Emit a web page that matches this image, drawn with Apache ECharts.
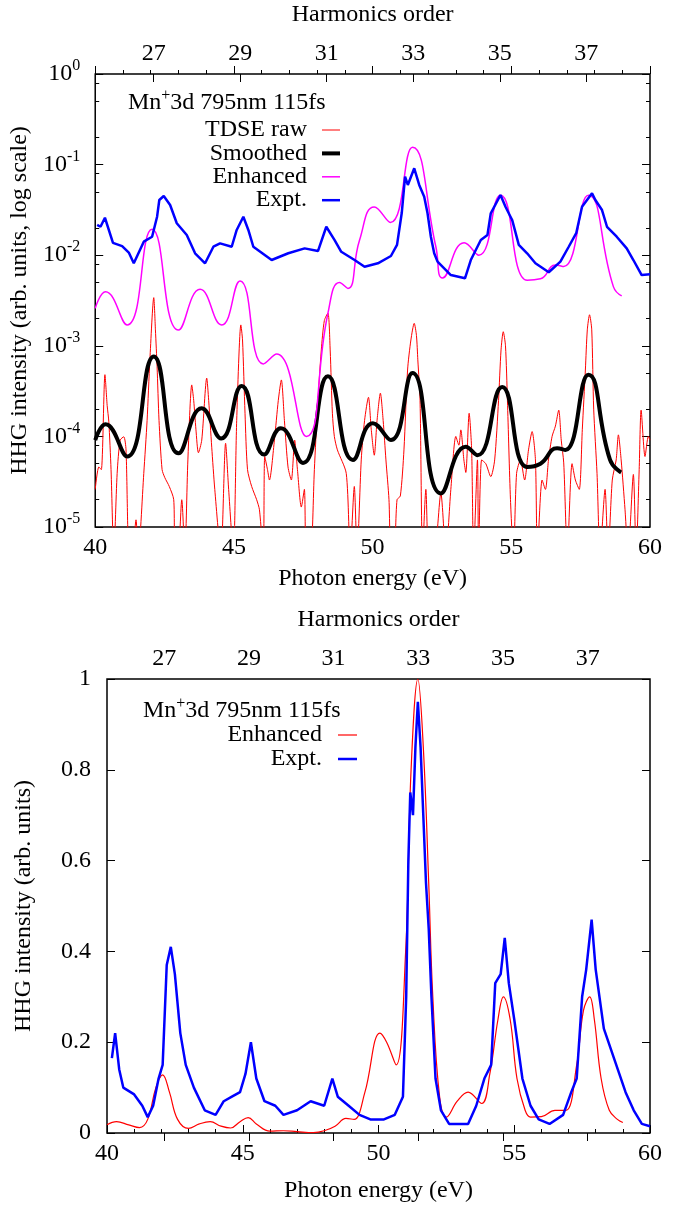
<!DOCTYPE html>
<html><head><meta charset="utf-8">
<script src="https://cdn.jsdelivr.net/npm/echarts@6/dist/echarts.min.js"></script>
<style>html,body{margin:0;padding:0;background:#fff}#c{width:685px;height:1206px}</style>
</head><body><div id="c"></div>
<script>
// photon energy of one 795 nm photon (eV) -> maps harmonic order to energy
const EV_PER_ORDER = 1.55955;
const energyRange = [40, 60];
const harmonicTicks = [27, 29, 31, 33, 35, 37];
const logRange = [1e-5, 1];
const logMinorTicks = [2e-5,5e-5,8e-5,2e-4,5e-4,8e-4,2e-3,5e-3,8e-3,2e-2,5e-2,8e-2,0.2,0.5,0.8];
const linTicks = [0, 0.2, 0.4, 0.6, 0.8, 1];

// ---- upper panel (log scale) ----
const tdseRaw = [
[40.0,2.6e-5],[40.13,4.6e-5],[40.22,4.3e-5],[40.35,4.8e-4],[40.43,2.2e-4],[40.49,1.45e-4],[40.57,4.3e-5],[40.67,5e-6],
[40.79,3.9e-5],[40.9,9.1e-5],[41.03,9.9e-5],[41.11,7.1e-5],[41.22,5e-6],[41.33,5e-6],[41.47,1.2e-5],[41.55,5e-6],
[41.75,3.9e-5],[41.87,1.5e-4],[41.97,7e-4],[42.11,3.4e-3],[42.17,1.5e-3],[42.23,5.9e-4],[42.3,1.5e-4],[42.41,4.3e-5],
[42.51,3.5e-5],[42.67,2.8e-5],[42.83,2e-5],[42.87,5e-6],[42.98,5e-6],[43.12,2e-5],[43.23,5e-6],[43.34,5.5e-5],
[43.48,3.7e-4],[43.55,2.5e-4],[43.63,1.2e-4],[43.72,6.6e-5],[43.84,9.1e-5],[44.02,4.4e-4],[44.09,2.5e-4],[44.2,7.6e-5],
[44.31,2.6e-5],[44.53,5e-6],[44.7,8.4e-5],[44.81,2.6e-5],[44.98,5e-6],[45.1,1.5e-4],[45.25,1.7e-3],[45.31,1.16e-3],
[45.4,1.8e-4],[45.49,4.3e-5],[45.64,2.8e-5],[45.82,2e-5],[45.92,1.55e-5],[46.06,5e-6],[46.11,6e-5],[46.21,4.3e-5],
[46.28,3.3e-5],[46.46,9.1e-5],[46.6,2.5e-4],[46.71,4.2e-4],[46.82,1.5e-4],[46.95,4.6e-5],[47.07,3.3e-5],[47.19,9.1e-5],
[47.29,4.3e-5],[47.43,1.66e-5],[47.54,2.6e-5],[47.61,5e-6],[47.76,5e-6],[47.9,4.3e-5],[48.01,2e-4],[48.15,9e-4],
[48.26,1.9e-3],[48.39,2.3e-3],[48.47,9e-4],[48.55,1.8e-4],[48.62,1e-4],[48.73,7.1e-5],[49.05,3.9e-5],[49.19,5e-6],
[49.34,2.8e-5],[49.44,5e-6],[49.59,5.5e-5],[49.71,1.5e-4],[49.85,2.7e-4],[49.95,1.2e-4],[50.06,6.2e-5],[50.16,1.5e-4],
[50.28,3e-4],[50.38,1.5e-4],[50.48,5.5e-5],[50.59,2e-5],[50.66,5e-6],[50.77,5e-6],[50.88,2e-5],[51.0,2.2e-5],
[51.13,7.1e-5],[51.26,5.4e-4],[51.38,1.16e-3],[51.5,1.77e-3],[51.58,1.3e-3],[51.63,7e-4],[51.71,2.5e-4],[51.8,5e-6],
[51.92,2.6e-5],[52.03,5e-6],[52.21,5e-6],[52.46,2.35e-5],[52.64,5e-6],[52.82,2.6e-5],[53.0,1e-4],[53.11,8e-5],
[53.18,1.18e-4],[53.29,5.5e-5],[53.36,4e-5],[53.48,1.8e-4],[53.57,7.1e-5],[53.64,5e-6],[53.78,5.5e-5],[53.82,5e-6],
[53.93,5.5e-5],[54.08,5e-5],[54.26,3.6e-5],[54.4,5.5e-5],[54.54,2.5e-4],[54.63,9e-4],[54.71,1.43e-3],[54.79,1e-3],
[54.86,2.5e-4],[54.97,2e-5],[55.08,5e-6],[55.19,3.9e-5],[55.33,5.5e-5],[55.48,3.3e-5],[55.62,7.1e-5],[55.75,1.13e-4],
[55.87,5.5e-5],[55.94,5e-6],[56.11,3.3e-5],[56.23,2.6e-5],[56.34,5.5e-5],[56.47,1e-4],[56.59,1.3e-4],[56.71,1.95e-4],
[56.8,9.1e-5],[56.89,5.1e-5],[57.02,5e-6],[57.19,5e-5],[57.31,3.3e-5],[57.45,2.6e-5],[57.56,1.2e-4],[57.67,5.4e-4],
[57.74,1.5e-3],[57.82,2.2e-3],[57.9,1.5e-3],[57.97,2e-4],[58.09,3.9e-5],[58.2,5e-6],[58.38,2.6e-5],[58.49,5e-6],
[58.64,3.3e-5],[58.78,5.5e-5],[58.86,1.04e-4],[58.96,5.5e-5],[59.1,1.55e-5],[59.21,5e-6],[59.4,3.8e-5],[59.5,5e-6],
[59.61,4.3e-5],[59.68,1.95e-4],[59.82,6e-5],[59.94,1e-4],[60.0,9.1e-5]
];
const smoothed = [
[40.0,9.1e-5],[40.37,1.36e-4],[41.15,6.0e-5],[42.11,7.6e-4],[43.0,6.5e-5],[43.84,2.04e-4],[44.54,9.5e-5],
[45.28,3.6e-4],[46.09,6.3e-5],[46.69,1.23e-4],[47.49,5.1e-5],[48.39,4.6e-4],[49.29,5.5e-5],[50.01,1.4e-4],
[50.66,9.1e-5],[51.44,5.0e-4],[52.46,2.35e-5],[53.36,7.7e-5],[53.78,6.2e-5],[54.67,3.5e-4],[55.57,4.6e-5],
[56.05,5.0e-5],[56.65,7.4e-5],[56.95,7.1e-5],[57.78,4.8e-4],[58.56,5.5e-5],[58.96,4.0e-5]
];
const enhancedLog = [
[40.0,2.59e-3],[40.37,3.95e-3],[41.15,1.7e-3],[42.05,1.93e-2],[43.0,1.49e-3],[43.78,4.2e-3],[44.56,1.7e-3],
[45.22,5.2e-3],[46.06,6.3e-4],[46.54,8.1e-4],[47.61,1.0e-4],[48.39,2.29e-3],[48.81,5.0e-3],[49.11,4.3e-3],
[49.53,1.47e-2],[50.06,3.4e-2],[50.64,2.3e-2],[51.44,1.55e-1],[52.28,1.24e-2],[52.52,5.6e-3],[53.3,1.37e-2],
[53.83,1.0e-2],[54.61,4.6e-2],[55.57,5.3e-3],[56.05,5.5e-3],[56.59,7.8e-3],[56.89,7.5e-3],[57.78,4.6e-2],
[58.68,4.5e-3],[58.98,3.55e-3]
];
const exptLog = [
[40.07,2.16e-2],[40.19,2.06e-2],[40.35,2.59e-2],[40.64,1.37e-2],[40.97,1.26e-2],[41.21,1.07e-2],[41.39,8.14e-3],
[41.75,1.41e-2],[42.05,1.6e-2],[42.23,2.66e-2],[42.31,4.07e-2],[42.47,4.5e-2],[42.7,3.58e-2],[42.94,2.25e-2],
[43.3,1.67e-2],[43.6,1.05e-2],[43.96,8.14e-3],[44.26,1.24e-2],[44.5,1.35e-2],[44.92,1.24e-2],[45.1,1.9e-2],
[45.34,2.66e-2],[45.52,1.9e-2],[45.7,1.24e-2],[46.36,8.85e-3],[46.96,1.05e-2],[47.55,1.19e-2],[48.03,1.11e-2],
[48.33,2.06e-2],[48.63,1.47e-2],[48.87,1.09e-2],[49.35,8.85e-3],[49.71,7.46e-3],[50.19,8.14e-3],[50.66,9.8e-3],
[50.88,1.3e-2],[51.05,2.92e-2],[51.17,7.35e-2],[51.27,5.96e-2],[51.5,9.1e-2],[51.68,5.96e-2],[51.86,4.42e-2],
[51.98,2.9e-2],[52.1,1.6e-2],[52.22,1.05e-2],[52.34,8.5e-3],[52.82,6.04e-3],[53.33,5.56e-3],[53.54,8.85e-3],
[53.9,1.47e-2],[54.14,1.67e-2],[54.26,2.9e-2],[54.61,4.62e-2],[54.79,3.43e-2],[55.03,2.45e-2],[55.27,1.3e-2],
[55.57,1.05e-2],[55.87,8.14e-3],[56.35,6.48e-3],[56.77,8.5e-3],[57.07,1.24e-2],[57.34,1.75e-2],[57.55,3.43e-2],
[57.91,4.82e-2],[58.03,4.07e-2],[58.27,3.15e-2],[58.45,2.06e-2],[58.8,1.6e-2],[59.16,1.19e-2],[59.4,8.85e-3],
[59.7,6.04e-3],[60.0,6.15e-3]
];

// ---- lower panel (linear scale) ----
const enhancedLin = [
[40.0,0.018],[40.35,0.025],[40.8,0.018],[41.2,0.012],[41.5,0.03],[41.8,0.1],[42.05,0.128],[42.3,0.09],[42.6,0.03],
[43.0,0.01],[43.4,0.02],[43.8,0.025],[44.2,0.015],[44.55,0.011],[44.9,0.025],[45.2,0.034],[45.5,0.02],[46.0,0.004],
[46.5,0.005],[47.0,0.003],[47.6,0.001],[48.0,0.005],[48.4,0.015],[48.8,0.032],[49.1,0.03],[49.5,0.09],[50.05,0.22],
[50.3,0.2],[50.65,0.15],[51.0,0.4],[51.2,0.8],[51.45,1.0],[51.65,0.85],[51.85,0.55],[52.0,0.3],[52.25,0.08],
[52.5,0.035],[52.9,0.07],[53.3,0.09],[53.8,0.065],[54.1,0.13],[54.4,0.25],[54.6,0.3],[54.85,0.25],[55.1,0.12],
[55.4,0.05],[55.6,0.035],[56.0,0.036],[56.5,0.05],[56.9,0.05],[57.3,0.15],[57.55,0.27],[57.78,0.3],[57.95,0.25],
[58.2,0.12],[58.5,0.05],[58.8,0.03],[59.0,0.023]
];
const exptLin = [
[40.18,0.165],[40.3,0.22],[40.45,0.14],[40.6,0.1],[41.0,0.085],[41.3,0.06],[41.5,0.035],[41.7,0.06],[41.9,0.12],
[42.05,0.15],[42.2,0.37],[42.35,0.41],[42.5,0.35],[42.7,0.22],[42.9,0.15],[43.2,0.1],[43.6,0.05],[44.0,0.04],
[44.3,0.07],[44.6,0.08],[44.9,0.09],[45.1,0.13],[45.3,0.2],[45.5,0.12],[45.8,0.07],[46.2,0.06],[46.5,0.04],
[47.0,0.05],[47.5,0.07],[48.0,0.06],[48.3,0.12],[48.5,0.08],[48.9,0.06],[49.3,0.04],[49.7,0.03],[50.2,0.03],
[50.6,0.04],[50.9,0.08],[51.02,0.3],[51.1,0.6],[51.17,0.75],[51.27,0.7],[51.36,0.85],[51.45,0.95],[51.55,0.85],
[51.65,0.7],[51.75,0.55],[51.85,0.45],[51.95,0.3],[52.1,0.12],[52.3,0.05],[52.6,0.02],[53.0,0.02],[53.3,0.02],
[53.6,0.06],[53.9,0.12],[54.15,0.15],[54.3,0.33],[54.5,0.35],[54.65,0.43],[54.8,0.33],[55.0,0.25],[55.3,0.12],
[55.6,0.06],[55.9,0.03],[56.3,0.02],[56.8,0.04],[57.1,0.09],[57.3,0.12],[57.5,0.3],[57.65,0.36],[57.85,0.47],
[58.0,0.36],[58.3,0.23],[58.7,0.16],[59.1,0.09],[59.4,0.05],[59.7,0.02],[60.0,0.015]
];

const FONT = 'Liberation Serif';
const FS = 24;
const SUP = 16;
const txt = {color:'#000', fontFamily:FONT, fontSize:FS};
const tickStyle = {lineStyle:{color:'#000', width:1}};

function energyAxis(grid, gap){
  return {type:'value', gridIndex:grid, position:'bottom', min:energyRange[0], max:energyRange[1], interval:5,
    axisLine:{show:false}, splitLine:{show:false},
    axisTick:Object.assign({inside:true, length:8}, tickStyle),
    minorTick:{show:true, splitNumber:5, length:4, lineStyle:{color:'#000', width:1}},
    axisLabel:Object.assign({margin:9}, txt),
    name:'Photon energy (eV)', nameLocation:'middle', nameGap:gap, nameTextStyle:txt};
}
function harmonicAxis(grid, gap){
  return {type:'value', gridIndex:grid, position:'top', min:energyRange[0]/EV_PER_ORDER, max:energyRange[1]/EV_PER_ORDER,
    axisLine:{show:false}, splitLine:{show:false},
    axisTick:Object.assign({inside:true, length:8, customValues:harmonicTicks}, tickStyle),
    axisLabel:Object.assign({margin:8, customValues:harmonicTicks}, txt),
    name:'Harmonics order', nameLocation:'middle', nameGap:gap, nameTextStyle:txt};
}
const logExpRange = [Math.log10(logRange[0]), Math.log10(logRange[1])];
const logMinorExp = logMinorTicks.map(v => Math.log10(v));
function logMinorAxis(pos){
  return {type:'value', gridIndex:0, position:pos, min:logExpRange[0], max:logExpRange[1],
    axisLine:{show:false}, splitLine:{show:false}, axisLabel:{show:false},
    axisTick:Object.assign({inside:true, length:4, customValues:logMinorExp}, tickStyle)};
}

const option = {
  animation:false,
  backgroundColor:'#fff',
  grid:[
    {left:93, top:74, width:557, height:453, show:true, borderColor:'#000', borderWidth:1.5, backgroundColor:'transparent'},
    {left:107, top:679, width:543, height:454, show:true, borderColor:'#000', borderWidth:1.5, backgroundColor:'transparent'}
  ],
  xAxis:[energyAxis(0, 40), harmonicAxis(0, 47), energyAxis(1, 46), harmonicAxis(1, 47)],
  yAxis:[
    {type:'log', logBase:10, gridIndex:0, position:'left', min:logRange[0], max:logRange[1],
      axisLine:{show:false}, splitLine:{show:false},
      axisTick:Object.assign({inside:true, length:8}, tickStyle),
      axisLabel:{margin:15, formatter:function(v){return '{b|10}{s|'+Math.round(Math.log10(v))+'}';},
        rich:{b:{fontFamily:FONT, fontSize:FS, color:'#000', lineHeight:32},
              s:{fontFamily:FONT, fontSize:SUP, color:'#000', lineHeight:16, verticalAlign:'top'}}},
      name:'HHG intensity (arb. units, log scale)', nameLocation:'middle', nameGap:60, nameTextStyle:txt},
    {type:'log', logBase:10, gridIndex:0, position:'right', min:logRange[0], max:logRange[1],
      axisLine:{show:false}, splitLine:{show:false}, axisLabel:{show:false},
      axisTick:Object.assign({inside:true, length:8}, tickStyle)},
    logMinorAxis('left'),
    logMinorAxis('right'),
    {type:'value', gridIndex:1, position:'left', min:0, max:1, interval:0.2,
      axisLine:{show:false}, splitLine:{show:false},
      axisTick:Object.assign({inside:true, length:8}, tickStyle),
      axisLabel:Object.assign({margin:16, customValues:linTicks}, txt),
      name:'HHG intensity (arb. units)', nameLocation:'middle', nameGap:71, nameTextStyle:txt},
    {type:'value', gridIndex:1, position:'right', min:0, max:1, interval:0.2,
      axisLine:{show:false}, splitLine:{show:false}, axisLabel:{show:false},
      axisTick:Object.assign({inside:true, length:8}, tickStyle)}
  ],
  series:[
    {name:'TDSE raw', type:'line', xAxisIndex:0, yAxisIndex:0, data:tdseRaw, showSymbol:false, symbol:'none',
      smooth:0.25, lineStyle:{color:'#ff0000', width:1}},
    {name:'Smoothed', type:'line', xAxisIndex:0, yAxisIndex:0, data:smoothed, symbol:'none',
      smooth:0.5, lineStyle:{color:'#000', width:4}},
    {name:'Enhanced', type:'line', xAxisIndex:0, yAxisIndex:0, data:enhancedLog, symbol:'none',
      smooth:0.5, lineStyle:{color:'#ff00ff', width:1.5}},
    {name:'Expt.', type:'line', xAxisIndex:0, yAxisIndex:0, data:exptLog, symbol:'none',
      lineStyle:{color:'#0000ff', width:2.5}},
    {name:'Enhanced ', type:'line', xAxisIndex:2, yAxisIndex:4, data:enhancedLin, symbol:'none',
      smooth:0.4, lineStyle:{color:'#ff0000', width:1.2}},
    {name:'Expt. ', type:'line', xAxisIndex:2, yAxisIndex:4, data:exptLin, symbol:'none',
      lineStyle:{color:'#0000ff', width:2.5}}
  ],
  graphic:[]
};

// legends (text right-aligned, line sample to the right)
function titleText(x, y){
  return {type:'text', left:x, top:y, style:{text:'{a|Mn}{s|+}{a|3d 795nm 115fs}',
    rich:{a:{fontFamily:FONT, fontSize:FS, fill:'#000', lineHeight:30}, s:{fontFamily:FONT, fontSize:SUP, fill:'#000', lineHeight:16, verticalAlign:'top'}}}};
}
function legendRow(label, color, width, xr, y, x1, x2){
  return [
    {type:'text', x:xr, y:y, style:{text:label, fontFamily:FONT, fontSize:FS, fill:'#000', align:'right', verticalAlign:'middle'}},
    {type:'line', shape:{x1:x1, y1:y, x2:x2, y2:y}, style:{stroke:color, lineWidth:width}}
  ];
}
option.graphic.push(titleText(128, 88));
[['TDSE raw','#ff0000',1],['Smoothed','#000',4],['Enhanced','#ff00ff',1.5],['Expt.','#0000ff',2.5]].forEach((r,i)=>{
  option.graphic.push(...legendRow(r[0], r[1], r[2], 307, 130 + i*23.4, 322, 340));
});
option.graphic.push(titleText(143, 696));
[['Enhanced','#ff0000',1.2],['Expt.','#0000ff',2.5]].forEach((r,i)=>{
  option.graphic.push(...legendRow(r[0], r[1], r[2], 322, 735 + i*24, 338, 357));
});

const chart = echarts.init(document.getElementById('c'), null, {renderer:'canvas'});
chart.setOption(option);
</script></body></html>
